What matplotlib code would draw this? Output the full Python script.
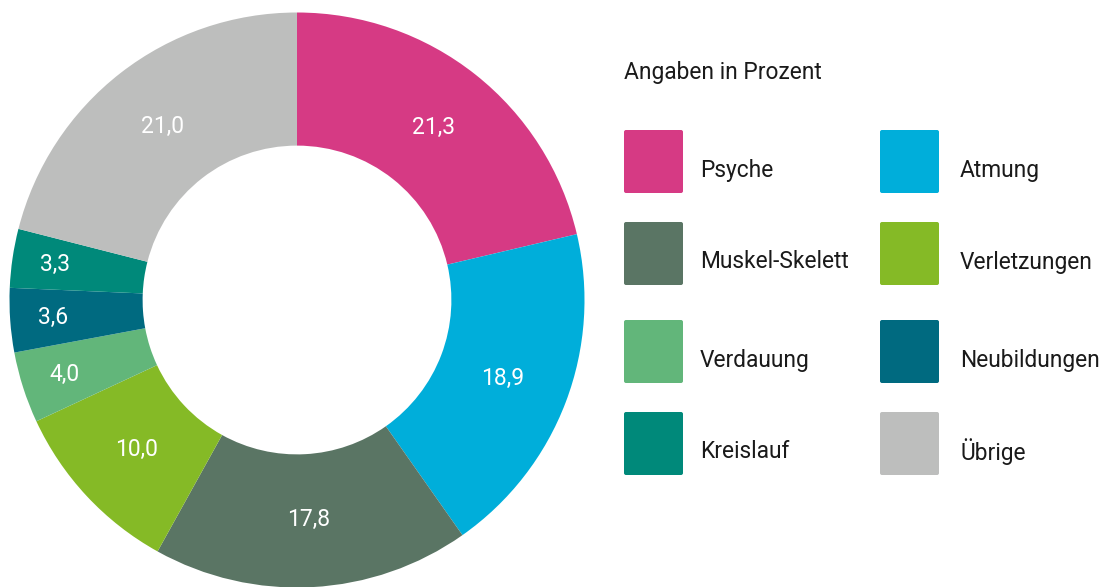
import numpy as np
import matplotlib.pyplot as plt
from matplotlib.patches import FancyBboxPatch

plt.rcParams['font.family'] = ['Roboto', 'DejaVu Sans']

categories = ['Psyche', 'Atmung', 'Muskel-Skelett', 'Verletzungen',
              'Verdauung', 'Neubildungen', 'Kreislauf', 'Übrige']
values = [21.3, 18.9, 17.8, 10.0, 4.0, 3.6, 3.3, 21.0]
colors = ['#D63A84', '#00AEDA', '#5A7564', '#85BA26',
          '#62B67A', '#006A80', '#00897A', '#BDBEBD']
# legend order (row by row, two columns)
legend_order = ['Psyche', 'Atmung', 'Muskel-Skelett', 'Verletzungen',
                'Verdauung', 'Neubildungen', 'Kreislauf', 'Übrige']
title = 'Angaben in Prozent'

W, H = 1104, 587
fig = plt.figure(figsize=(W / 100, H / 100), dpi=100)

# donut
cx, cy, R = 297, 300, 287.5
ax = fig.add_axes([(cx - R) / W, (H - cy - R) / H, 2 * R / W, 2 * R / H])
wedges, texts = ax.pie(values, colors=colors, startangle=90, counterclock=False,
                       radius=1.0, wedgeprops=dict(width=0.463, linewidth=0),
                       labels=[f'{v:.1f}'.replace('.', ',') for v in values],
                       labeldistance=0.77)
for w, t, v in zip(wedges, texts, values):
    # small slices get their label pushed further out
    dist = 0.85 if v < 5 else 0.765
    ang = np.deg2rad((w.theta1 + w.theta2) / 2)
    t.set_position((dist * np.cos(ang), dist * np.sin(ang)))
    t.set_color('white')
    t.set_fontsize(16.5)
    t.set_ha('center')
    t.set_va('center')
ax.set_xlim(-1, 1)
ax.set_ylim(-1, 1)
ax.set_aspect('equal')
ax.axis('off')

# legend drawn in pixel coords
lg = fig.add_axes([0, 0, 1, 1])
lg.set_xlim(0, W)
lg.set_ylim(H, 0)
lg.axis('off')
lg.text(624, 73, title, fontsize=16.4, va='center', ha='left', color='#1a1a1a')

col_x = [624, 880]
text_off = [76, 80]
row_y = [130, 222, 320, 412]
cmap = dict(zip(categories, colors))
for i, name in enumerate(legend_order):
    c = i % 2
    x = col_x[c]
    y = row_y[i // 2]
    lg.add_patch(FancyBboxPatch((x, y), 59, 63,
                                boxstyle='round,pad=0,rounding_size=2',
                                fc=cmap[name], ec='none'))
    lg.text(x + text_off[c], y + 40, name, fontsize=16.4, va='center',
            ha='left', color='#1a1a1a')

plt.savefig('out.png', dpi=100)
